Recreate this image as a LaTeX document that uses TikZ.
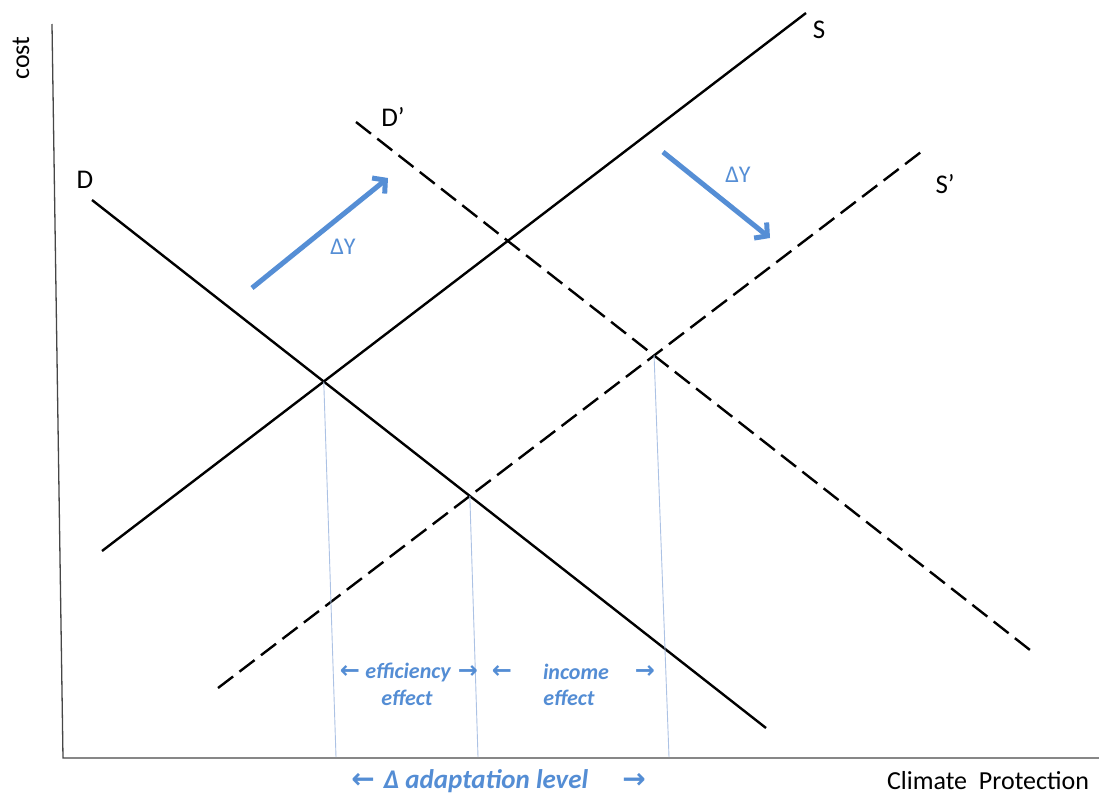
\documentclass[tikz,border=0pt]{standalone}
\usepackage{fontspec}
\setmainfont{Carlito}
\newfontfamily\arrowfont{DejaVu Sans}
\usetikzlibrary{arrows.meta}
\definecolor{shiftblue}{RGB}{85,142,213}
\definecolor{dropblue}{RGB}{172,194,228}
\definecolor{labelblue}{RGB}{84,141,212}
\definecolor{axisgray}{RGB}{70,70,70}
\tikzset{
  curve/.style={line width=2.4pt, draw=black},
  shifted/.style={curve, dash pattern=on 19pt off 8pt},
  axisline/.style={line width=1.3pt, draw=axisgray},
  drop/.style={line width=0.9pt, draw=dropblue},
  shiftarr/.style={-{Straight Barb[length=9pt, width=20pt, line width=5pt]}, line width=5pt, draw=shiftblue},
  curvelbl/.style={inner sep=0pt, font=\fontsize{27}{30}\selectfont},
  axislbl/.style={inner sep=0pt, font=\fontsize{26}{30}\selectfont},
  dylbl/.style={inner sep=0pt, text=shiftblue, font=\fontsize{24}{27}\selectfont},
  effect/.style={inner sep=0pt, text=labelblue, font=\fontsize{22}{26}\selectfont\bfseries\itshape},
  bigeffect/.style={inner sep=0pt, text=labelblue, font=\fontsize{27}{30}\selectfont\bfseries\itshape},
  tick/.style={inner sep=0pt, text=labelblue, font=\fontsize{24}{28}\selectfont\arrowfont\bfseries}
}

\begin{document}
\begin{tikzpicture}[x=1pt, y=-1pt]
\useasboundingbox (0,0) rectangle (1099,795);
% axes
\coordinate (ytop) at (52,24);
\coordinate (orig) at (63,758);
\coordinate (xend) at (1099,758);
\draw[axisline] (ytop) -- (orig) -- (xend);
\node[axislbl, rotate=90] (cost) at (21,58) {cost};
\node[axislbl] (cp) at (988,781) {Climate\ \ Protection};
% demand and supply
\coordinate (d0) at (92,200);   \coordinate (d1) at (766,728);
\coordinate (s0) at (102,551);  \coordinate (s1) at (806,13);
\coordinate (dd0) at (356,122); \coordinate (dd1) at (1030,650);
\coordinate (ss0) at (218,688); \coordinate (ss1) at (921,152);
\draw[curve] (d0) -- (d1);
\draw[curve] (s0) -- (s1);
\draw[shifted] (dd0) -- (dd1);
\draw[shifted] (ss0) -- (ss1);
\node[curvelbl] (dlbl) at (85,180) {D};
\node[curvelbl] (slbl) at (819,30) {S};
\node[curvelbl] (ddlbl) at (393,117) {D’};
\node[curvelbl] (sslbl) at (945,184) {S’};
% equilibria
\coordinate (eq0) at (intersection of d0--d1 and s0--s1);
\coordinate (eq1) at (intersection of d0--d1 and ss0--ss1);
\coordinate (eq2) at (intersection of dd0--dd1 and ss0--ss1);
\coordinate (q0) at (336,757);
\coordinate (q1) at (478,757);
\coordinate (q2) at (669,757);
\draw[drop] (eq0) -- (q0);
\draw[drop] (eq1) -- (q1);
\draw[drop] (eq2) -- (q2);
% income shifts
\coordinate (up0) at (252,288);   \coordinate (up1) at (388,178);
\coordinate (dn0) at (663,152);   \coordinate (dn1) at (770,238);
\draw[shiftarr] (up0) -- (up1);
\draw[shiftarr] (dn0) -- (dn1);
\node[dylbl] (dy0) at (343,247) {ΔY};
\node[dylbl] (dy1) at (738,175) {ΔY};
% effects
\node[tick] (el) at (350,672) {←};
\node[effect] (eff) at (408,672) {efficiency};
\node[tick] (er) at (468,672) {→};
\node[effect] (eff2) at (407,698) {effect};
\node[tick] (il) at (502,672) {←};
\node[effect] (inc) at (576,672) {income};
\node[tick] (ir) at (645,672) {→};
\node[effect] (inc2) at (569,698) {effect};
\node[tick, font=\fontsize{28}{32}\selectfont\arrowfont\bfseries] (al) at (363,781) {←};
\node[bigeffect] (adapt) at (486,781) {Δ adaptation level};
\node[tick, font=\fontsize{28}{32}\selectfont\arrowfont\bfseries] (ar) at (634,781) {→};
\end{tikzpicture}
\end{document}
